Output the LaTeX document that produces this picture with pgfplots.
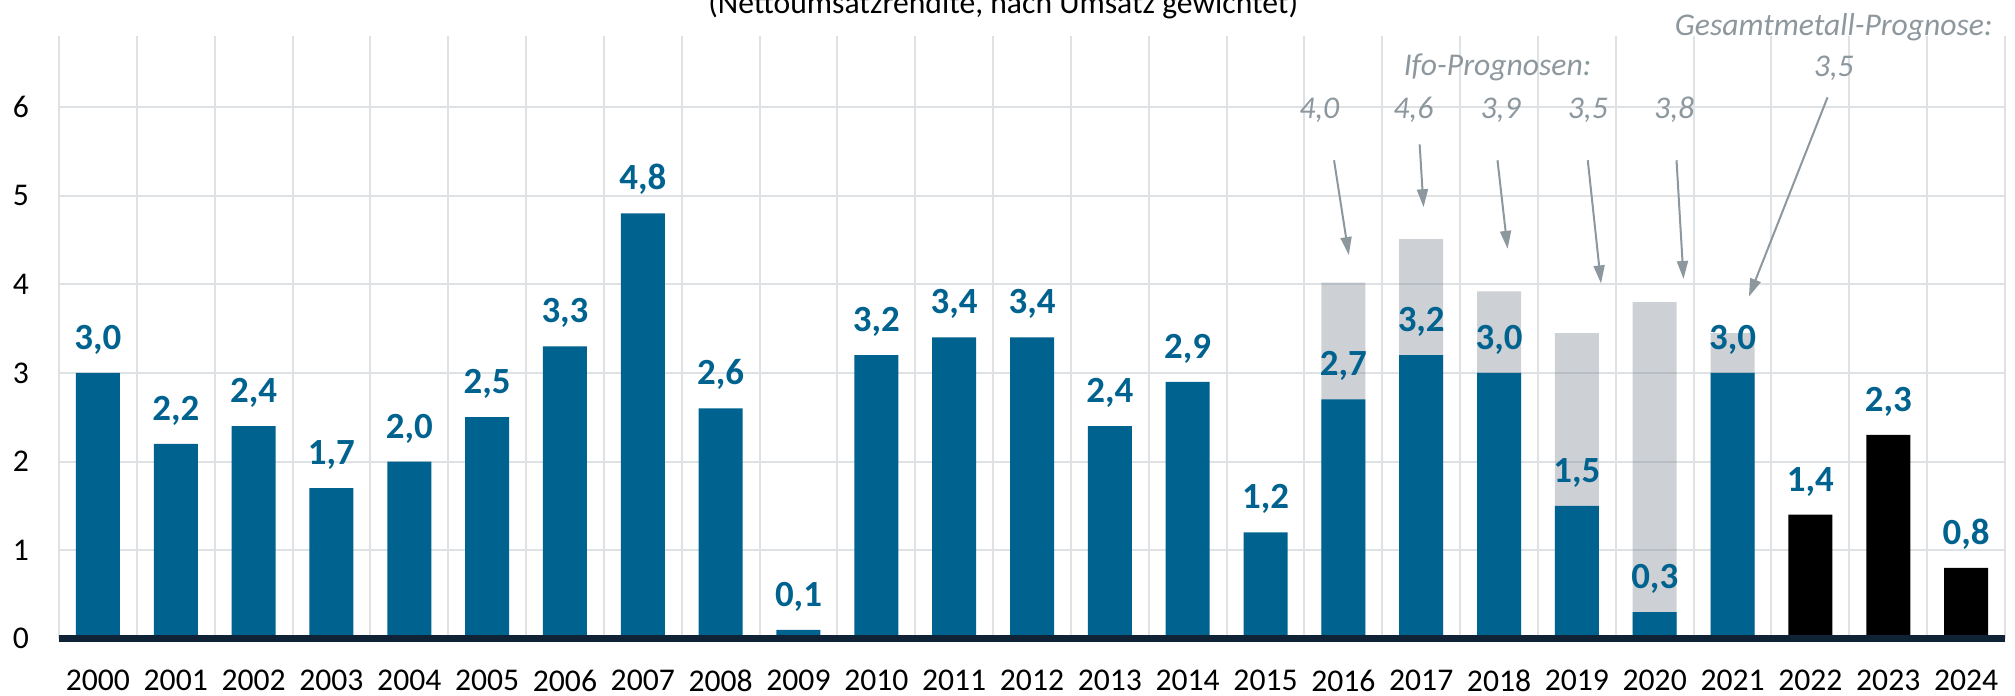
\documentclass[border=0pt]{standalone}
\usepackage{fontspec}
\setmainfont{Carlito}
\usepackage{pgfplots}
\usepackage{pgfplotstable}
\pgfplotsset{compat=1.18}
\usetikzlibrary{arrows.meta}
\definecolor{barblue}{HTML}{00628F}
\definecolor{fcgray}{HTML}{828A93}
\definecolor{gridc}{HTML}{DEE2E5}
\definecolor{annot}{HTML}{8D979E}
\definecolor{basec}{HTML}{0F2236}

\pgfplotstableread{
x val
0 3.0
1 2.2
2 2.4
3 1.7
4 2.0
5 2.5
6 3.3
7 4.8
8 2.6
9 0.1
10 3.2
11 3.4
12 3.4
13 2.4
14 2.9
15 1.2
16 2.7
17 3.2
18 3.0
19 1.5
20 0.3
21 3.0
}\actual
\pgfplotstableread{
x val
22 1.4
23 2.3
24 0.8
}\recent
\pgfplotstableread{
x val
16 4.02
17 4.51
18 3.92
19 3.45
20 3.80
21 3.45
}\forecast

\begin{document}
\begin{tikzpicture}
\begin{axis}[
  at={(0,0)}, anchor=south west,
  scale only axis, width=194.6mm, height=60.25mm,
  xmin=-0.5, xmax=24.5, ymin=0, ymax=6.8,
  axis line style={draw=none},
  xtick={0,...,24},
  xticklabels={2000,2001,2002,2003,2004,2005,2006,2007,2008,2009,2010,2011,2012,2013,2014,2015,2016,2017,2018,2019,2020,2021,2022,2023,2024},
  ytick={0,...,6},
  major tick length=0, minor tick length=0,
  minor xtick={-0.5,0.5,...,24.5},
  ymajorgrids, xminorgrids,
  major grid style={gridc, line width=0.2mm},
  minor grid style={gridc, line width=0.2mm},
  tick label style={font=\fontsize{9}{10}\selectfont, text=black},
  xticklabel style={anchor=center, yshift=-4.2mm},
  yticklabel style={anchor=center, xshift=-3.8mm},
  /pgf/number format/assume math mode=true,
  clip=false,
  nodes near coords style={font=\bfseries\fontsize{10.5}{12}\selectfont, text=barblue, anchor=base, yshift=2.35mm},
]
\addplot[ybar, bar width=4.4mm, bar shift=0pt, fill=fcgray, fill opacity=0.4, draw=none] table[x=x,y=val]{\forecast};
\addplot[ybar, bar width=4.4mm, bar shift=0pt, fill=barblue, draw=none,
  nodes near coords={\pgfmathprintnumber[fixed,fixed zerofill,precision=1,use comma]{\pgfplotspointmeta}}] table[x=x,y=val]{\actual};
\addplot[ybar, bar width=4.4mm, bar shift=0pt, fill=black, draw=none,
  nodes near coords={\pgfmathprintnumber[fixed,fixed zerofill,precision=1,use comma]{\pgfplotspointmeta}}] table[x=x,y=val]{\recent};

\draw[basec, line width=0.67mm] (axis cs:-0.5,0) -- (axis cs:24.5,0);

\begin{scope}[annot, line width=0.2mm, -{Triangle[length=1.8mm,width=1.1mm]}]
\draw (axis cs:15.88,5.40) -- (axis cs:16.07,4.33);
\draw (axis cs:16.98,5.58) -- (axis cs:17.03,4.87);
\draw (axis cs:17.98,5.40) -- (axis cs:18.11,4.40);
\draw (axis cs:19.14,5.40) -- (axis cs:19.31,4.01);
\draw (axis cs:20.28,5.40) -- (axis cs:20.37,4.06);
\draw (axis cs:22.22,6.11) -- (axis cs:21.21,3.86);
\end{scope}

\begin{scope}[every node/.style={text=annot, font=\itshape\fontsize{9}{10}\selectfont, anchor=base, inner sep=0pt}]
\node at (axis cs:15.69,5.87) {4,0};
\node at (axis cs:16.90,5.87) {4,6};
\node at (axis cs:18.02,5.87) {3,9};
\node at (axis cs:19.14,5.87) {3,5};
\node at (axis cs:20.25,5.87) {3,8};
\node at (axis cs:17.98,6.36) {Ifo-Prognosen:};
\node at (axis cs:22.30,6.81) {Gesamtmetall-Prognose:};
\node at (axis cs:22.30,6.34) {3,5};
\end{scope}

\node[anchor=base, inner sep=0pt, font=\fontsize{9}{10}\selectfont] at (axis cs:11.63,7.06) {(Nettoumsatzrendite, nach Umsatz gewichtet)};
\end{axis}
\pgfresetboundingbox
\useasboundingbox (-5.9mm,-5.63mm) rectangle (195.6mm,63.87mm);
\end{tikzpicture}
\end{document}
